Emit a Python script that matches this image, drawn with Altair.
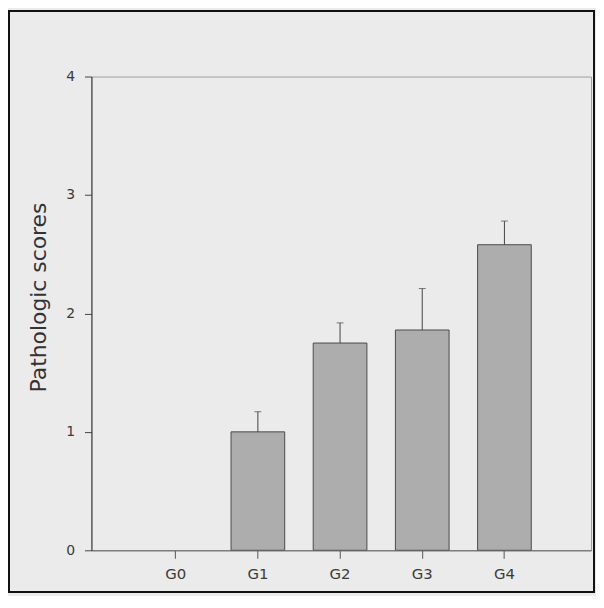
import altair as alt
import pandas as pd

groups = ["G0", "G1", "G2", "G3", "G4"]
means = [0.0, 1.0, 1.75, 1.86, 2.58]
upper = [0.0, 1.17, 1.92, 2.21, 2.78]

df = pd.DataFrame({"group": groups, "mean": means, "upper": upper})
frame_df = pd.DataFrame({"k": [0]})

FONT = "DejaVu Sans"

xscale = alt.Scale(domain=groups, paddingInner=0.347, paddingOuter=0.713, align=0.49)
yscale = alt.Scale(domain=[0, 4], nice=False)

frame = alt.Chart(frame_df).mark_rect(filled=False, stroke="#111111", strokeWidth=2).encode(
    x=alt.value(-83), x2=alt.value(506), y=alt.value(-66), y2=alt.value(519)
)

bars = alt.Chart(df).transform_filter("datum.mean > 0").mark_bar(
    color="#adadad", stroke="#4a4a4a", strokeWidth=1
).encode(
    x=alt.X("group:N", scale=xscale, sort=groups,
            axis=alt.Axis(title="", labelAngle=0, labelFont=FONT, labelFontSize=15,
                          labelColor="#3a3a3a", labelPadding=8, tickSize=8,
                          tickColor="#555555", domainColor="#666666", zindex=1)),
    y=alt.Y("mean:Q", scale=yscale,
            axis=alt.Axis(title="Pathologic scores", values=[0, 1, 2, 3, 4], format="d",
                          grid=False, labelFont=FONT, labelFontSize=14, labelColor="#3a3a3a",
                          labelPadding=10, tickSize=7, tickColor="#444444",
                          domainColor="#333333", titleFont=FONT, titleFontSize=22,
                          titleFontWeight="normal", titleColor="#333333",
                          titleX=-46, titleY=222, titleBaseline="alphabetic", zindex=1)),
)

errs = alt.Chart(df).transform_filter("datum.upper > datum.mean").mark_rule(
    color="#444444", strokeWidth=1
).encode(
    x=alt.X("group:N", scale=xscale, sort=groups),
    y=alt.Y("mean:Q", scale=yscale),
    y2="upper:Q",
)

caps = alt.Chart(df).transform_filter("datum.upper > datum.mean").mark_tick(
    color="#444444", thickness=1, size=7
).encode(
    x=alt.X("group:N", scale=xscale, sort=groups),
    y=alt.Y("upper:Q", scale=yscale),
)

chart = alt.layer(frame, bars, errs, caps).properties(
    width=503, height=477,
    autosize=alt.AutoSizeParams(type="none"),
    padding={"left": 84, "top": 67, "right": 5, "bottom": 44},
    background="#ebebeb",
).configure_view(stroke="#9c9c9c", strokeWidth=1)

chart.save("out.html", embed_options={"renderer": "svg", "actions": False})
